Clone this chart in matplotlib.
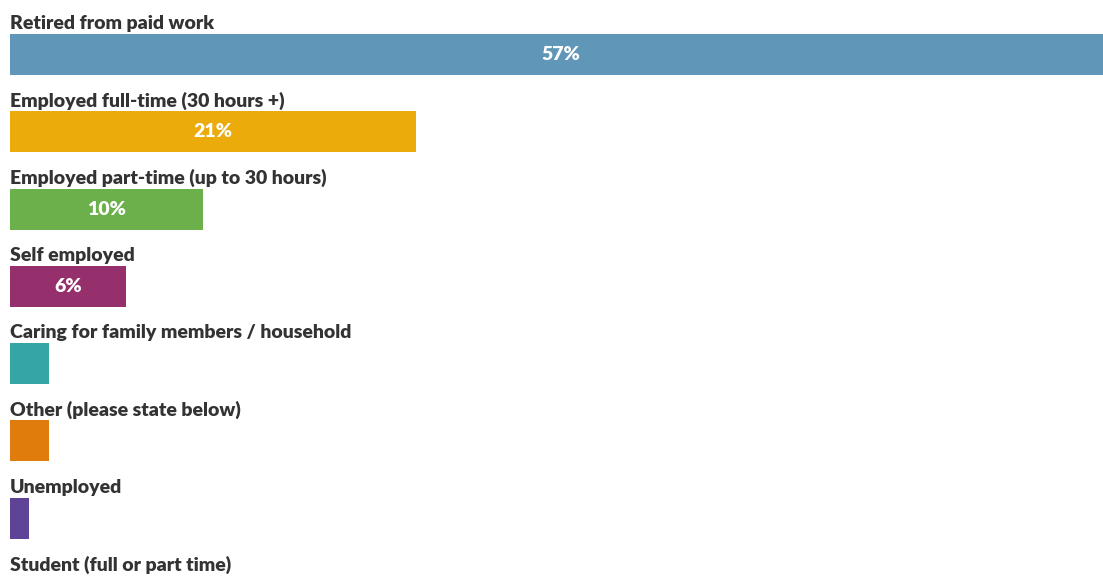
import matplotlib.pyplot as plt

plt.rcParams['font.family'] = ['Lato', 'DejaVu Sans']

categories = ['Retired from paid work',
              'Employed full-time (30 hours +)',
              'Employed part-time (up to 30 hours)',
              'Self employed',
              'Caring for family members / household',
              'Other (please state below)',
              'Unemployed',
              'Student (full or part time)']
values = [57, 21, 10, 6, 2, 2, 1, 0]
shown = [True, True, True, True, False, False, False, False]
colors = ['#6096b8', '#ebab0b', '#6bb04a', '#95306c',
          '#35a5a5', '#e07c0c', '#5e4396', '#888888']

fig = plt.figure(figsize=(11.03, 5.76), dpi=100)
ax = fig.add_axes([10 / 1103, 0, 1 - 10 / 1103, 1])

rows = list(range(len(categories)))
ax.barh(rows, values, height=0.53, color=colors, edgecolor='none')

for i, (cat, v, s) in enumerate(zip(categories, values, shown)):
    ax.text(0, i - 0.40, cat, ha='left', va='center', fontsize=14,
            fontweight='heavy', color='#333333', clip_on=False)
    if s:
        ax.text(v / 2, i, f'{v}%', ha='center', va='center', fontsize=14,
                fontweight='heavy', color='white')

ax.set_xlim(0, 56.6)
ax.set_ylim(6.747, -0.705)
ax.axis('off')

fig.savefig('out.png', dpi=100)
